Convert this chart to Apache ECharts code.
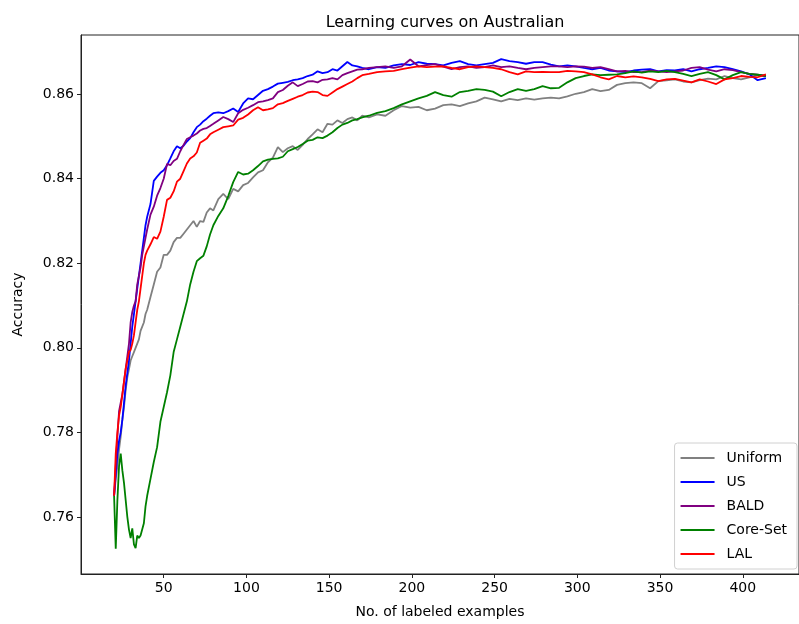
<!DOCTYPE html>
<html>
<head>
<meta charset="utf-8">
<script src="https://cdn.jsdelivr.net/npm/echarts@6/dist/echarts.min.js"></script>
<style>
  html, body { margin: 0; padding: 0; background: #fff; }
  #chart { width: 799px; height: 624px; }
</style>
</head>
<body>
<div id="chart"></div>
<script>
// labeled examples (shared x positions)
const xs = [20, 21, 22, 23, 24, 25, 26, 27, 28, 29, 30, 31, 32, 33, 34, 35, 36, 37, 38, 39, 40,
  42, 44, 46, 48, 50, 52, 54, 56, 58, 60, 62, 64, 66, 68, 70, 72, 74, 76, 78, 80,
  83, 86, 89, 92, 95, 98, 101, 104, 107, 110, 113, 116, 119, 122, 125, 128, 131, 134, 137, 140,
  143, 146, 149, 152, 155, 158, 161, 164, 167, 170,
  174, 179, 184, 189, 194, 199, 204, 209, 214, 219, 224, 229, 234, 239, 244, 249, 254, 259, 264, 269,
  274, 279, 284, 289, 294, 299, 304, 309, 314, 319, 324, 329, 334, 339, 344, 349, 354, 359, 364, 369,
  374, 379, 384, 389, 394, 399, 404, 409, 414];

const uniform = [0.765, 0.769, 0.772, 0.776, 0.779, 0.783, 0.786, 0.790, 0.793, 0.795, 0.797, 0.798, 0.799, 0.800, 0.801, 0.802, 0.804, 0.804, 0.806, 0.808, 0.809,
  0.812, 0.815, 0.818, 0.819, 0.822, 0.822, 0.823, 0.825, 0.826, 0.826, 0.827, 0.828, 0.829, 0.830, 0.8286, 0.830, 0.8298, 0.832, 0.833, 0.8325,
  0.8352, 0.8364, 0.8352, 0.8376, 0.837, 0.8385, 0.839, 0.8403, 0.8415, 0.842, 0.8439, 0.845, 0.8475, 0.8463, 0.8472, 0.8477, 0.8468, 0.848, 0.8494, 0.8505,
  0.8517, 0.851, 0.853, 0.8528, 0.8538, 0.8532, 0.8541, 0.8545, 0.8538, 0.8549,
  0.8545, 0.8552, 0.8549, 0.8562, 0.8572, 0.8568, 0.857, 0.8562, 0.8566, 0.8574, 0.8576, 0.8572, 0.8578, 0.8583, 0.8592, 0.8588, 0.8583, 0.8589, 0.8586, 0.8590,
  0.8587, 0.8590, 0.8592, 0.8590, 0.8595, 0.8601, 0.8605, 0.8612, 0.8607, 0.8610, 0.8622, 0.8626, 0.8628, 0.8626, 0.8614, 0.8631, 0.8633, 0.8635, 0.8630, 0.8628,
  0.8633, 0.8637, 0.8635, 0.8643, 0.8638, 0.8635, 0.864, 0.8645, 0.8643];

const us = [0.765, 0.770, 0.775, 0.778, 0.780, 0.783, 0.787, 0.791, 0.794, 0.797, 0.801, 0.805, 0.808, 0.811, 0.814, 0.817, 0.820, 0.823, 0.826, 0.829, 0.831,
  0.834, 0.8395, 0.8405, 0.8414, 0.842, 0.8432, 0.8448, 0.8465, 0.8477, 0.8472, 0.8478, 0.8488, 0.8496, 0.851, 0.8522, 0.8528, 0.8536, 0.8542, 0.8549, 0.8555,
  0.8557, 0.8555, 0.856, 0.8566, 0.8558, 0.8578, 0.859, 0.8588, 0.8598, 0.8608, 0.8612, 0.8618, 0.8625, 0.8627, 0.8629, 0.8633, 0.8635, 0.8638, 0.8643, 0.8646,
  0.8654, 0.865, 0.8652, 0.8659, 0.8656, 0.8666, 0.8676, 0.8668, 0.8666, 0.8662,
  0.8659, 0.8664, 0.8662, 0.8668, 0.8671, 0.8669, 0.8676, 0.8672, 0.8671, 0.8668, 0.8674, 0.8678, 0.8671, 0.8668, 0.8671, 0.8674, 0.8683, 0.8678, 0.8676, 0.8672,
  0.8676, 0.8676, 0.8670, 0.8666, 0.8668, 0.8666, 0.8662, 0.8659, 0.8662, 0.8656, 0.8654, 0.8652, 0.8656, 0.8658, 0.8659, 0.8654, 0.8657, 0.8656, 0.8659, 0.8654,
  0.8659, 0.8662, 0.8666, 0.8664, 0.8659, 0.8654, 0.8647, 0.8633, 0.8638];

const bald = [0.765, 0.772, 0.779, 0.785, 0.787, 0.789, 0.792, 0.795, 0.798, 0.801, 0.806, 0.8085, 0.810, 0.811, 0.815, 0.817, 0.819, 0.822, 0.824, 0.826, 0.828,
  0.8315, 0.8334, 0.836, 0.8378, 0.840, 0.8435, 0.8432, 0.8442, 0.8447, 0.8465, 0.848, 0.8494, 0.8498, 0.8502, 0.8507, 0.8514, 0.8518, 0.852, 0.8525, 0.853,
  0.8538, 0.8546, 0.8541, 0.8534, 0.8555, 0.8563, 0.8568, 0.8574, 0.8581, 0.8583, 0.8586, 0.8590, 0.8605, 0.861, 0.862, 0.8628, 0.8619, 0.8624, 0.8630, 0.8631,
  0.8628, 0.8634, 0.8635, 0.8638, 0.8635, 0.8645, 0.865, 0.8654, 0.8658, 0.8659,
  0.8662, 0.8664, 0.8666, 0.8662, 0.8666, 0.8682, 0.8666, 0.8669, 0.8671, 0.8665, 0.8659, 0.8664, 0.8666, 0.8662, 0.8664, 0.8668, 0.8664, 0.8666, 0.8662, 0.8659,
  0.8662, 0.8664, 0.8666, 0.8666, 0.8664, 0.8666, 0.8665, 0.8662, 0.8664, 0.8659, 0.8654, 0.8655, 0.8652, 0.8652, 0.8656, 0.8654, 0.8652, 0.8654, 0.8656, 0.8662,
  0.8664, 0.8658, 0.8654, 0.8659, 0.8657, 0.8652, 0.8648, 0.8646, 0.8643];

const coreSet = [0.765, 0.7525, 0.764, 0.772, 0.775, 0.771, 0.768, 0.764, 0.760, 0.757, 0.755, 0.7573, 0.7535, 0.7526, 0.7556, 0.755, 0.7556, 0.7555, 0.7585, 0.7625, 0.765,
  0.769, 0.773, 0.7765, 0.7825, 0.786, 0.7895, 0.7935, 0.799, 0.802, 0.805, 0.808, 0.811, 0.815, 0.818, 0.8205, 0.8212, 0.8218, 0.824, 0.8268, 0.829,
  0.8312, 0.833, 0.8359, 0.8392, 0.8416, 0.841, 0.8412, 0.842, 0.843, 0.8441, 0.8445, 0.8447, 0.8448, 0.8452, 0.8465, 0.847, 0.8475, 0.8482, 0.849, 0.8492,
  0.8498, 0.8496, 0.8502, 0.851, 0.852, 0.8528, 0.8532, 0.8538, 0.8541, 0.8545,
  0.8549, 0.8556, 0.856, 0.8567, 0.8576, 0.8583, 0.859, 0.8596, 0.8605, 0.8598, 0.8594, 0.8605, 0.8608, 0.8612, 0.8610, 0.8606, 0.8595, 0.8605, 0.8612, 0.8608,
  0.8612, 0.8619, 0.8614, 0.8615, 0.8628, 0.8638, 0.8643, 0.8647, 0.8645, 0.8646, 0.8647, 0.865, 0.8654, 0.8651, 0.8654, 0.8652, 0.8655, 0.8652, 0.8648, 0.8643,
  0.8648, 0.8652, 0.8645, 0.8635, 0.8645, 0.8652, 0.8648, 0.8646, 0.8643];

const lal = [0.765, 0.775, 0.780, 0.784, 0.786, 0.789, 0.792, 0.795, 0.797, 0.799, 0.7995, 0.801, 0.803, 0.806, 0.809, 0.811, 0.814, 0.817, 0.820, 0.822, 0.823,
  0.8245, 0.8262, 0.8258, 0.8275, 0.831, 0.835, 0.8355, 0.837, 0.8393, 0.840, 0.8418, 0.8436, 0.8448, 0.8453, 0.8462, 0.8485, 0.849, 0.8495, 0.8505, 0.851,
  0.8516, 0.8522, 0.8524, 0.8526, 0.8540, 0.8544, 0.8552, 0.8562, 0.8569, 0.8562, 0.8564, 0.8567, 0.8576, 0.8579, 0.8584, 0.8589, 0.8594, 0.8598, 0.8604, 0.8606,
  0.8605, 0.8598, 0.8596, 0.8604, 0.8612, 0.8618, 0.8624, 0.863, 0.8638, 0.8645,
  0.8648, 0.8652, 0.8654, 0.8655, 0.8659, 0.8663, 0.8666, 0.8664, 0.8665, 0.8666, 0.8662, 0.8659, 0.8664, 0.8666, 0.8664, 0.8662, 0.8659, 0.8652, 0.8647, 0.8654,
  0.8652, 0.8653, 0.8652, 0.8652, 0.8655, 0.8654, 0.8652, 0.8647, 0.8640, 0.8635, 0.8643, 0.8640, 0.8642, 0.864, 0.8636, 0.8631, 0.8635, 0.8636, 0.8632, 0.8628,
  0.8635, 0.863, 0.8624, 0.8635, 0.8638, 0.8643, 0.8641, 0.864, 0.8647];

const xTicks = [50, 100, 150, 200, 250, 300, 350, 400];
const yTicks = [0.76, 0.78, 0.80, 0.82, 0.84, 0.86];

const names = ['Uniform', 'US', 'BALD', 'Core-Set', 'LAL'];
const colors = ['#808080', '#0000ff', '#800080', '#008000', '#ff0000'];
const values = [uniform, us, bald, coreSet, lal];

const font = 'DejaVu Sans';
const chart = echarts.init(document.getElementById('chart'));

chart.setOption({
  animation: false,
  backgroundColor: '#fff',
  title: {
    text: 'Learning curves on Australian',
    left: 440,
    textAlign: 'center',
    top: 10,
    textStyle: { fontFamily: font, fontSize: 16, fontWeight: 'normal', color: '#000' }
  },
  legend: {
    orient: 'vertical',
    right: 2,
    top: 443,
    data: names,
    icon: 'rect',
    itemWidth: 34,
    itemHeight: 2,
    itemGap: 8,
    padding: [7, 10, 7, 6],
    backgroundColor: 'rgba(255,255,255,0.8)',
    borderColor: '#d0d0d0',
    borderWidth: 1,
    borderRadius: 3,
    textStyle: { fontFamily: font, fontSize: 14, color: '#000', padding: [0, 0, 0, 7], lineHeight: 16 }
  },
  grid: {
    left: 81, top: 35, right: -8, bottom: 48,
    show: true, borderColor: '#222', borderWidth: 1, backgroundColor: 'transparent'
  },
  xAxis: {
    type: 'value',
    min: 0, max: 434,
    name: 'No. of labeled examples',
    nameLocation: 'middle',
    nameGap: 31,
    nameTextStyle: { fontFamily: font, fontSize: 14, color: '#000' },
    axisLine: { show: true, lineStyle: { color: '#222', width: 1 } },
    axisTick: { show: true, inside: false, length: 4, customValues: xTicks, lineStyle: { color: '#222' } },
    axisLabel: { customValues: xTicks, fontFamily: font, fontSize: 14, color: '#000', margin: 7 },
    splitLine: { show: false }
  },
  yAxis: {
    type: 'value',
    min: 0.7465, max: 0.874,
    name: 'Accuracy',
    nameLocation: 'middle',
    nameGap: 56,
    nameTextStyle: { fontFamily: font, fontSize: 14, color: '#000' },
    axisLine: { show: true, lineStyle: { color: '#222', width: 1 } },
    axisTick: { show: true, inside: false, length: 4, customValues: yTicks, lineStyle: { color: '#222' } },
    axisLabel: {
      customValues: yTicks, fontFamily: font, fontSize: 14, color: '#000', margin: 7,
      formatter: v => v.toFixed(2)
    },
    splitLine: { show: false }
  },
  series: names.map((name, k) => ({
    name: name,
    type: 'line',
    symbol: 'none',
    color: colors[k],
    lineStyle: { color: colors[k], width: 1.8 },
    data: xs.map((x, i) => [x, values[k][i]])
  }))
});
</script>
</body>
</html>
